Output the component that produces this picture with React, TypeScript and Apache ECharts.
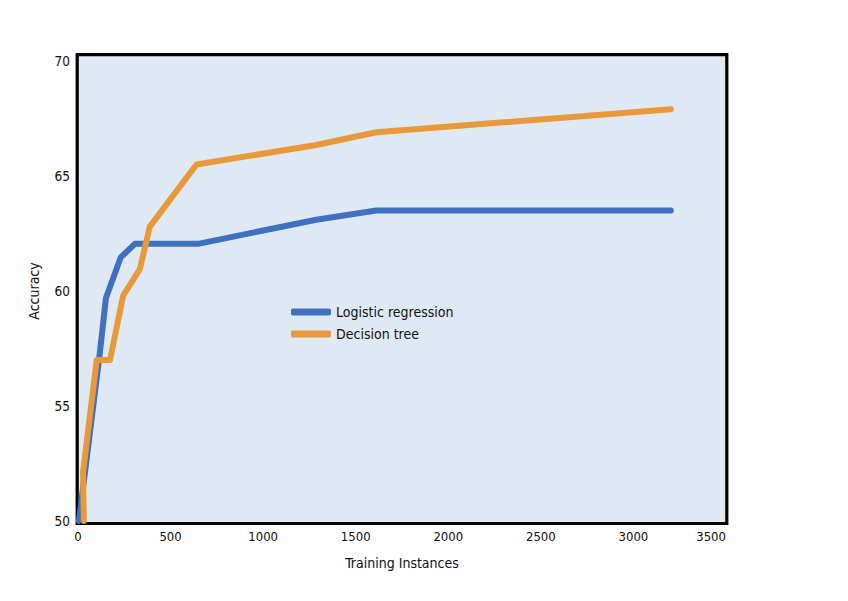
import React, { useEffect, useRef } from "react";
import * as echarts from "echarts";

const seriesNames = ["Logistic regression", "Decision tree"];
const logisticData: [number, number][] = [
  [5, 50],
  [115, 57.1],
  [151, 59.7],
  [230, 61.45],
  [307, 62.05],
  [649, 62.05],
  [1287, 63.1],
  [1611, 63.5],
  [3202, 63.5],
];
const treeData: [number, number][] = [
  [32, 50],
  [27, 52.1],
  [101, 57.0],
  [173, 57.0],
  [244, 59.8],
  [334, 60.95],
  [388, 62.8],
  [640, 65.5],
  [1287, 66.35],
  [1611, 66.9],
  [3202, 67.9],
];
const xTicks = { min: 0, max: 3500, interval: 500 };
const yTicks = { min: 50, max: 70, interval: 5 };

const FONT = "'Liberation Sans Narrow', 'DejaVu Sans Condensed', 'Noto Sans', sans-serif";

export default function App() {
  const ref = useRef<HTMLDivElement>(null);
  useEffect(() => {
    if (!ref.current) return;
    const chart = echarts.init(ref.current, null, { renderer: "svg" });
    chart.setOption({
      animation: false,
      backgroundColor: "#fdfdfd",
      textStyle: { fontFamily: FONT },
      graphic: [
        {
          type: "rect",
          z: -10,
          shape: { x: 77.2, y: 54.7, width: 649.6, height: 468.8 },
          style: { fill: "#dee9f3", stroke: "#000", lineWidth: 3.2 },
          silent: true,
        },
      ],
      grid: { left: 78, right: 122, top: 61, bottom: 80, containLabel: false },
      legend: {
        orient: "vertical",
        left: 286,
        top: 300,
        icon: "roundRect",
        itemWidth: 40,
        itemHeight: 7,
        itemGap: 8,
        textStyle: { fontFamily: FONT, fontSize: 14, color: "#111" },
        data: seriesNames,
      },
      xAxis: {
        type: "value",
        min: xTicks.min,
        max: xTicks.max,
        interval: xTicks.interval,
        name: "Training Instances",
        nameLocation: "middle",
        nameGap: 35,
        nameTextStyle: { fontFamily: FONT, fontSize: 14, color: "#111" },
        axisLine: { show: false },
        axisTick: { show: false },
        splitLine: { show: false },
        axisLabel: {
          fontFamily: FONT,
          fontSize: 13,
          color: "#111",
          margin: 9,
          alignMaxLabel: "right",
          formatter: (v: number) => String(v),
        },
      },
      yAxis: {
        type: "value",
        min: yTicks.min,
        max: yTicks.max,
        interval: yTicks.interval,
        name: "Accuracy",
        nameLocation: "middle",
        nameGap: 37,
        nameRotate: 90,
        nameTextStyle: { fontFamily: FONT, fontSize: 14, color: "#111" },
        axisLine: { show: false },
        axisTick: { show: false },
        splitLine: { show: false },
        axisLabel: { fontFamily: FONT, fontSize: 13.5, color: "#111", margin: 8 },
      },
      series: [
        {
          name: seriesNames[0],
          type: "line",
          data: logisticData,
          symbol: "none",
          lineStyle: { width: 6, color: "#4071c0", cap: "round", join: "round" },
          itemStyle: { color: "#4071c0" },
        },
        {
          name: seriesNames[1],
          type: "line",
          data: treeData,
          symbol: "none",
          lineStyle: { width: 6, color: "#e9993b", cap: "round", join: "round" },
          itemStyle: { color: "#e9993b" },
        },
      ],
    });
    return () => chart.dispose();
  }, []);
  return <div ref={ref} style={{ width: 848, height: 601, position: "absolute", left: 0, top: 0 }} />;
}
